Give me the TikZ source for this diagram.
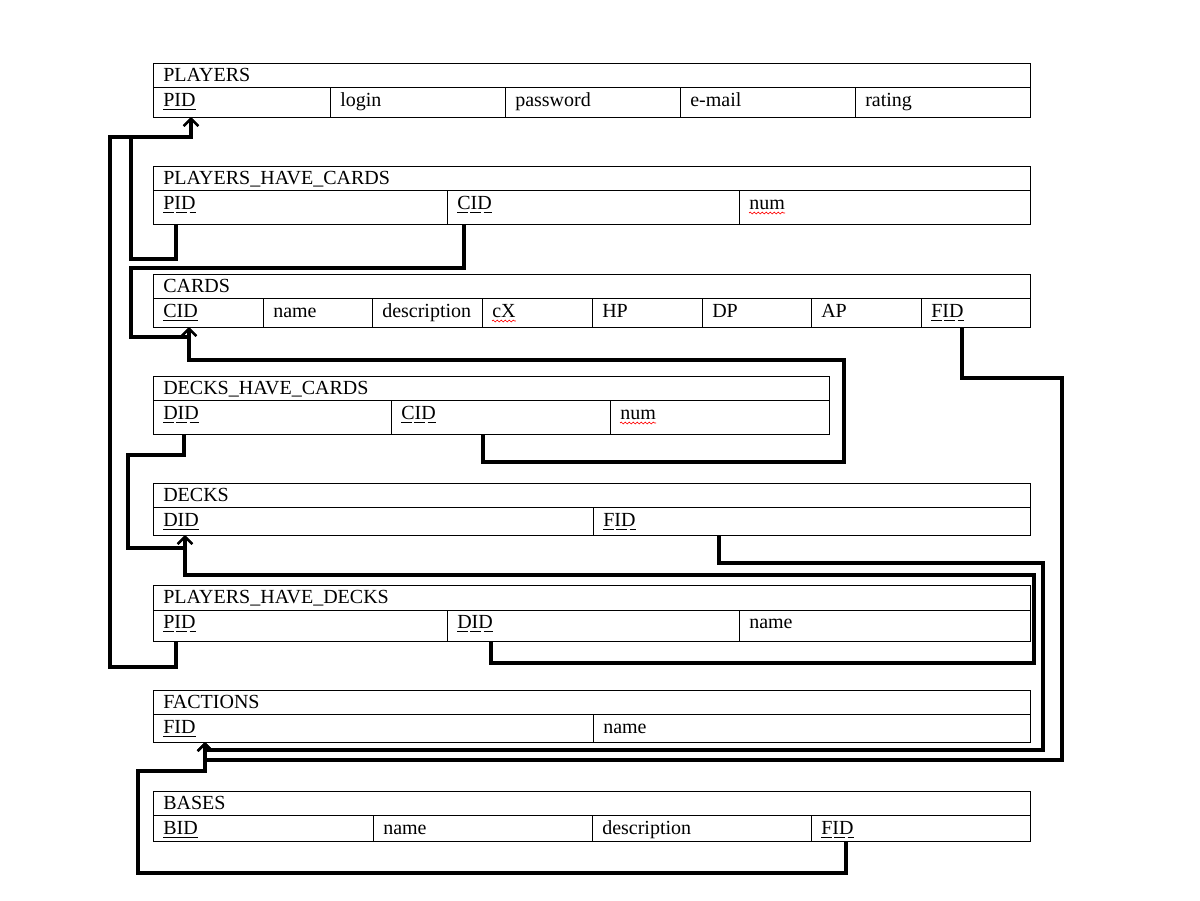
\documentclass[tikz,border=0pt]{standalone}
\usepackage{fontspec}
\setmainfont{Liberation Serif}
\usetikzlibrary{arrows.meta,decorations.pathmorphing,calc}
\newcommand{\dotable}[5]{%
  \draw[tbl] (153,#1) rectangle (#4,#3) (153,#2) -- (#4,#2);
  \foreach \x in {#5} \draw[tbl] (\x,#2) -- (\x,#3);}
\newcommand{\pkline}[1]{\draw[line width=0.75pt] ($(#1.base west)+(0,3)$) -- ($(#1.base east)+(0,3)$);}
\newcommand{\fkline}[1]{\draw[line width=0.75pt,dash pattern=on 8pt off 2pt] ($(#1.base west)+(0,3)$) -- ($(#1.base east)+(0,3)$);}
\newcommand{\waveline}[1]{\draw[red,line width=0.5pt,decorate,decoration={snake,amplitude=0.7pt,segment length=3pt}] ($(#1.base west)+(0,4)$) -- ($(#1.base east)+(0,4)$);}
\begin{document}
\begin{tikzpicture}[x=0.75pt,y=-0.75pt,
  tbl/.style={line width=0.75pt},
  conn/.style={line width=2.3pt},
  lbl/.style={anchor=base west,inner sep=0pt,font=\fontsize{15}{18}\selectfont},
  tip/.style={-{Straight Barb[length=5.5pt,width=11pt,line width=1.8pt]}}]
\useasboundingbox (0,0) rectangle (1200,900);

% PLAYERS
\dotable{63}{87}{117}{1030}{330,505,680,855}
\node[lbl] (pl) at (163,81) {PLAYERS};
\node[lbl] (plpid) at (163,106) {PID};
\node[lbl] (pllogin) at (340,106) {login};
\node[lbl] (plpw) at (515,106) {password};
\node[lbl] (plmail) at (690,106) {e-mail};
\node[lbl] (plrat) at (865,106) {rating};
\pkline{plpid}

% PLAYERS_HAVE_CARDS
\dotable{166}{190}{224}{1030}{447,739}
\node[lbl] (phc) at (163,184) {PLAYERS\_HAVE\_CARDS};
\node[lbl] (phcpid) at (163,209) {PID};
\node[lbl] (phccid) at (457,209) {CID};
\node[lbl] (phcnum) at (749,209) {num};
\fkline{phcpid} \fkline{phccid} \waveline{phcnum}

% CARDS
\dotable{274}{298}{327}{1030}{263,372,482,592,702,811,921}
\node[lbl] (ca) at (163,292) {CARDS};
\node[lbl] (cacid) at (163,317) {CID};
\node[lbl] (caname) at (273,317) {name};
\node[lbl] (cadesc) at (382,317) {description};
\node[lbl] (cacx) at (492,317) {cX};
\node[lbl] (cahp) at (602,317) {HP};
\node[lbl] (cadp) at (712,317) {DP};
\node[lbl] (caap) at (821,317) {AP};
\node[lbl] (cafid) at (931,317) {FID};
\pkline{cacid} \fkline{cafid} \waveline{cacx}

% DECKS_HAVE_CARDS
\dotable{376}{400}{434}{829}{391,610}
\node[lbl] (dhc) at (163,394) {DECKS\_HAVE\_CARDS};
\node[lbl] (dhcdid) at (163,419) {DID};
\node[lbl] (dhccid) at (401,419) {CID};
\node[lbl] (dhcnum) at (620,419) {num};
\fkline{dhcdid} \fkline{dhccid} \waveline{dhcnum}

% DECKS
\dotable{483}{507}{535}{1030}{593}
\node[lbl] (de) at (163,501) {DECKS};
\node[lbl] (dedid) at (163,526) {DID};
\node[lbl] (defid) at (603,526) {FID};
\pkline{dedid} \fkline{defid}

% PLAYERS_HAVE_DECKS
\dotable{585}{610}{641}{1030}{447,739}
\node[lbl] (phd) at (163,603) {PLAYERS\_HAVE\_DECKS};
\node[lbl] (phdpid) at (163,628) {PID};
\node[lbl] (phddid) at (457,628) {DID};
\node[lbl] (phdname) at (749,628) {name};
\fkline{phdpid} \fkline{phddid}

% FACTIONS
\dotable{690}{714}{742}{1030}{593}
\node[lbl] (fa) at (163,708) {FACTIONS};
\node[lbl] (fafid) at (163,733) {FID};
\node[lbl] (faname) at (603,733) {name};
\pkline{fafid}

% BASES
\dotable{791}{815}{841}{1030}{373,592,811}
\node[lbl] (ba) at (163,809) {BASES};
\node[lbl] (babid) at (163,834) {BID};
\node[lbl] (baname) at (383,834) {name};
\node[lbl] (badesc) at (602,834) {description};
\node[lbl] (bafid) at (821,834) {FID};
\pkline{babid} \fkline{bafid}

% connection points
\coordinate (pPID) at (191,117);
\coordinate (cCID) at (189,327);
\coordinate (dDID) at (185,535);
\coordinate (fFID) at (205,742);
\coordinate (phcP) at (176,224);
\coordinate (phcC) at (464,224);
\coordinate (cF) at (962,327);
\coordinate (dhcD) at (184,434);
\coordinate (dhcC) at (483,434);
\coordinate (dF) at (719,535);
\coordinate (phdP) at (176,641);
\coordinate (phdD) at (491,641);
\coordinate (bF) at (846,841);

% connectors
\draw[conn,tip] (phcP) |- (131,259) |- (191,137) -- (pPID);
\draw[conn,tip] (phdP) |- (110,667) |- (191,137) -- (pPID);
\draw[conn,tip] (phcC) |- (131,268) |- (189,337) -- (cCID);
\draw[conn,tip] (dhcC) |- (844,462) |- (189,360) -- (cCID);
\draw[conn,tip] (dhcD) |- (128,455) |- (185,548) -- (dDID);
\draw[conn,tip] (phdD) |- (1034,663) |- (185,575) -- (dDID);
\draw[conn,tip] (dF) |- (1043,563) |- (205,750) -- (fFID);
\draw[conn,tip] (cF) |- (1062,378) |- (205,760) -- (fFID);
\draw[conn,tip] (bF) |- (138,873) |- (205,771) -- (fFID);
\end{tikzpicture}
\end{document}
